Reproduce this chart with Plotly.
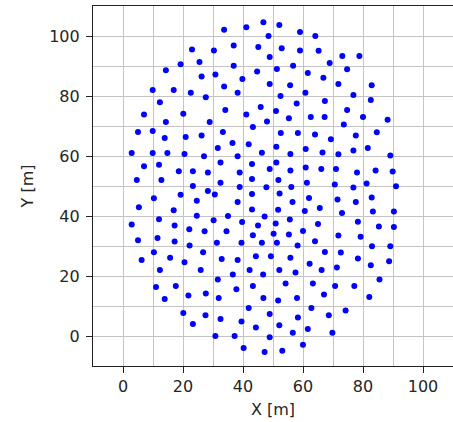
import plotly.graph_objects as go

# Point positions (metres)
x_m = [
    23.0, 25.5, 19.2, 14.3, 26.2, 9.9, 16.9, 22.6, 27.6, 12.3, 7.0, 20.1, 14.3, 28.9,
    33.7, 41.1, 46.8, 52.1, 48.5, 59.0, 64.1, 30.3, 36.9, 45.1, 52.9, 59.0, 65.2, 48.9,
    36.9, 44.7, 51.3, 56.7, 30.8, 39.8, 61.6, 66.8, 33.7, 48.9, 55.7, 38.2, 52.5, 60.8,
    67.3, 57.9, 34.1, 45.9, 41.1, 51.0, 62.6, 67.2, 48.0, 55.3,
    68.9, 73.1, 78.8, 74.7, 71.8, 82.9, 76.8, 82.6, 74.7, 80.0, 88.2,
    5.0, 9.9, 13.9, 20.9, 26.2, 2.9, 9.9, 14.8, 20.5, 27.0, 7.0, 12.0, 18.6, 23.3, 28.3,
    4.6, 12.8, 23.3, 28.3, 10.3, 19.2, 24.6, 5.3, 16.9, 24.6, 12.0, 2.9, 17.2, 22.1, 27.2,
    33.3, 43.3, 52.6, 58.3, 64.0, 31.6, 36.5, 41.9, 46.3, 51.1, 55.8, 60.9, 66.5, 32.5,
    38.2, 43.0, 48.9, 51.1, 55.8, 60.9, 66.1, 38.9, 32.5, 43.0, 51.8, 56.1, 61.3, 30.6,
    38.9, 43.0, 47.8, 52.2, 56.5, 62.0, 38.2, 43.0, 47.2, 51.7, 60.6, 65.6, 30.2, 35.0,
    39.7, 45.0, 50.9, 55.6, 65.0, 34.5, 43.3, 50.2, 60.0, 55.3,
    73.6, 69.3, 77.6, 84.6, 71.8, 76.8, 81.6, 89.1, 71.0, 78.0, 84.2, 89.9, 70.6, 76.8,
    81.2, 91.0, 71.5, 77.6, 82.9, 73.0, 83.3, 90.3, 78.3, 85.3, 90.3, 71.8, 79.2,
    5.0, 11.5, 17.2, 22.2, 10.3, 15.7, 26.7, 6.2, 20.5, 12.3, 25.9, 11.0, 17.6, 13.9,
    21.8, 27.6, 20.1, 27.5, 23.3,
    31.3, 39.5, 46.3, 51.3, 58.2, 64.0, 32.9, 38.2, 44.3, 49.3, 55.8, 62.2, 67.3, 42.2,
    52.1, 57.5, 66.2, 31.6, 36.6, 46.7, 43.3, 54.2, 63.3, 37.8, 31.9, 46.8, 51.7, 58.0,
    67.0, 41.9, 62.8, 48.9, 32.5, 39.5, 58.3, 44.3, 52.1, 61.6, 30.8, 37.2, 48.9, 56.6,
    40.2, 60.0, 47.2, 53.1,
    83.0, 89.1, 72.6, 78.3, 88.7, 82.6, 71.3, 85.5, 70.7, 77.1, 82.1, 74.2, 68.6, 69.8,
]
y_m = [
    95.5, 91.3, 90.6, 88.6, 86.5, 82.0, 82.0, 81.1, 79.6, 77.9, 73.8, 74.1, 71.3, 71.3,
    102.1, 102.9, 104.6, 103.7, 100.0, 101.3, 100.0, 95.2, 96.8, 96.3, 95.9, 95.2, 95.1, 93.0,
    90.1, 88.2, 89.0, 90.1, 87.2, 85.7, 87.7, 86.1, 83.2, 84.0, 83.6, 81.1, 80.0, 81.1,
    78.3, 77.5, 75.3, 76.3, 73.8, 75.0, 73.0, 73.0, 71.5, 72.6,
    91.0, 93.3, 93.3, 88.9, 84.0, 83.6, 80.3, 78.7, 75.3, 73.0, 72.1,
    68.0, 68.3, 66.0, 66.3, 66.8, 61.0, 61.0, 61.0, 60.7, 59.9, 56.6, 57.1, 54.9, 54.9, 54.5,
    52.0, 52.0, 50.0, 48.3, 45.9, 47.1, 45.1, 42.9, 41.9, 40.1, 38.9, 37.2, 36.8, 35.6, 34.9,
    68.0, 69.7, 67.7, 67.7, 67.2, 62.7, 64.3, 63.9, 61.1, 63.1, 60.7, 62.3, 61.2, 57.8,
    59.9, 57.3, 55.7, 57.8, 55.2, 56.2, 55.7, 54.5, 51.1, 52.3, 52.0, 49.7, 51.1, 47.2,
    49.7, 47.3, 49.6, 47.5, 44.7, 46.0, 44.7, 42.2, 39.8, 42.1, 41.7, 42.7, 38.6, 40.0,
    38.0, 36.8, 37.5, 38.8, 37.3, 34.9, 33.6, 34.1, 35.0, 33.8,
    70.5, 65.6, 66.8, 67.9, 60.6, 61.8, 62.7, 60.2, 55.7, 54.5, 55.2, 54.8, 50.5, 49.5,
    50.8, 49.9, 45.5, 44.7, 46.2, 41.0, 41.5, 41.5, 38.1, 36.5, 36.3, 33.5, 33.1,
    31.9, 32.7, 31.5, 30.2, 27.9, 26.1, 27.9, 25.3, 24.6, 22.0, 22.0, 16.3, 16.7, 12.3,
    13.5, 14.2, 7.7, 6.9, 4.0,
    31.1, 31.1, 31.1, 31.1, 30.2, 31.6, 25.7, 25.3, 26.6, 26.6, 26.1, 24.1, 28.0, 22.0,
    22.0, 21.2, 22.0, 18.8, 20.5, 20.5, 16.7, 17.5, 17.5, 15.6, 12.7, 12.7, 11.8, 12.7,
    13.8, 9.3, 9.3, 7.3, 5.7, 4.8, 6.2, 2.8, 3.6, 2.3, 0.0, 0.0, -0.4, 1.1,
    -4.0, -2.9, -5.3, -4.9,
    29.9, 29.9, 27.8, 25.8, 24.9, 23.6, 22.8, 18.8, 16.7, 16.7, 13.0, 8.5, 6.9, 1.1,
]

x_ticks = [0, 20, 40, 60, 80, 100]
y_ticks = [0, 20, 40, 60, 80, 100]
x_title = "X [m]"
y_title = "Y [m]"

font_main = dict(family="DejaVu Sans", size=16, color="#262626")

fig = go.Figure()
fig.add_trace(go.Scatter(
    x=x_m, y=y_m, mode="markers",
    marker=dict(color="#0000ff", size=6, line=dict(width=0)),
    showlegend=False,
))

axis_common = dict(
    showgrid=True, gridcolor="#c4c4c4", gridwidth=1,
    minor=dict(dtick=10, showgrid=True, gridcolor="#c4c4c4", gridwidth=1, ticks=""),
    zeroline=False,
    showline=True, linecolor="#222222", linewidth=1.2, mirror=True,
    ticks="outside", ticklen=6, tickwidth=1, tickcolor="#222222",
    tickfont=font_main,
    automargin=False,
)

fig.update_xaxes(
    range=[-10, 110], tickvals=x_ticks, ticktext=[str(v) for v in x_ticks],
    title=dict(text=x_title, font=font_main, standoff=8),
    **axis_common,
)
fig.update_yaxes(
    range=[-10, 110], tickvals=y_ticks, ticktext=[str(v) for v in y_ticks],
    ticklabelstandoff=3,
    title=dict(text=y_title, font=font_main, standoff=11),
    **axis_common,
)

fig.update_layout(
    width=453, height=422,
    margin=dict(l=93, r=0, t=6, b=56, autoexpand=False),
    paper_bgcolor="white", plot_bgcolor="white",
)

# remove the default 8px page margin so the figure sits at the window's origin
fig.write_html(
    "out.html",
    config={"displayModeBar": False},
    post_script="document.body.style.margin='0px';document.body.style.overflow='hidden';",
)
